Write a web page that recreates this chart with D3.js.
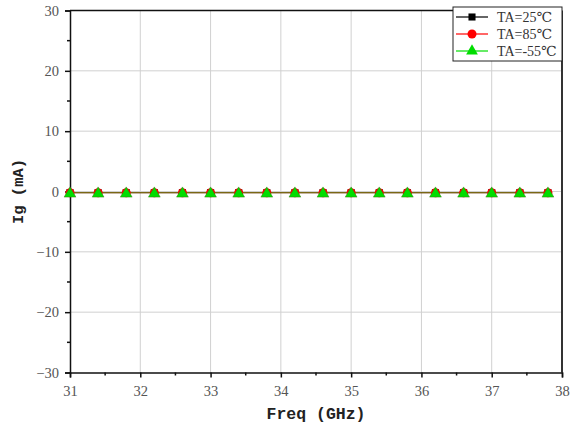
<!DOCTYPE html>
<html><head><meta charset="utf-8">
<script src="https://cdn.jsdelivr.net/npm/d3@7"></script>
<style>body{margin:0;background:#fff}</style>
</head><body><svg id="c" width="577" height="430"></svg>
<script>
const freq = [31,31.4,31.8,32.2,32.6,33,33.4,33.8,34.2,34.6,35,35.4,35.8,36.2,36.6,37,37.4,37.8];
const ig25 = [-0.2,-0.2,-0.2,-0.2,-0.2,-0.2,-0.2,-0.2,-0.2,-0.2,-0.2,-0.2,-0.2,-0.2,-0.2,-0.2,-0.2,-0.2];
const ig85 = [-0.2,-0.2,-0.2,-0.2,-0.2,-0.2,-0.2,-0.2,-0.2,-0.2,-0.2,-0.2,-0.2,-0.2,-0.2,-0.2,-0.2,-0.2];
const igm55 = [-0.2,-0.2,-0.2,-0.2,-0.2,-0.2,-0.2,-0.2,-0.2,-0.2,-0.2,-0.2,-0.2,-0.2,-0.2,-0.2,-0.2,-0.2];
const seriesNames = ["TA=25℃","TA=85℃","TA=-55℃"];
const xTicks = [31,32,33,34,35,36,37,38];
const yTicks = [-30,-20,-10,0,10,20,30];
const xTitle = "Freq (GHz)";
const yTitle = "Ig (mA)";

const svg = d3.select("#c");
const L=70, R=562, T=10.5, B=372.5;
const x = d3.scaleLinear().domain([31,38]).range([L,R]);
const y = d3.scaleLinear().domain([-30,30]).range([B,T]);

// grid
svg.append("g").selectAll("line").data(xTicks.slice(1,-1)).join("line")
  .attr("x1",d=>x(d)).attr("x2",d=>x(d)).attr("y1",T).attr("y2",B)
  .attr("stroke","#d0d0d0").attr("stroke-width",1);
svg.append("g").selectAll("line").data(yTicks.slice(1,-1)).join("line")
  .attr("y1",d=>y(d)).attr("y2",d=>y(d)).attr("x1",L).attr("x2",R)
  .attr("stroke","#d0d0d0").attr("stroke-width",1);

// frame top/right
svg.append("line").attr("x1",L).attr("x2",R).attr("y1",T).attr("y2",T).attr("stroke","#111").attr("stroke-width",1.5);
svg.append("line").attr("x1",R).attr("x2",R).attr("y1",T).attr("y2",B).attr("stroke","#333").attr("stroke-width",2);

// axes
const xMinor = d3.range(31.5,38,1);
const yMinor = d3.range(-25,30,10);
const fontTick = "'Liberation Serif', 'DejaVu Serif', serif";
const xa = svg.append("g").attr("transform",`translate(0,${B})`)
  .call(d3.axisBottom(x).tickValues(xTicks).tickSize(5).tickPadding(8).tickFormat(d3.format("d")));
const ya = svg.append("g").attr("transform",`translate(${L},0)`)
  .call(d3.axisLeft(y).tickValues(yTicks).tickSize(5).tickPadding(6).tickFormat(d=>d<0?"\u2212"+Math.abs(d):d));
[xa,ya].forEach(a=>{
  a.select(".domain").attr("stroke","#111").attr("stroke-width",1.5);
  a.selectAll(".tick line").attr("stroke","#111").attr("stroke-width",1.5);
  a.selectAll("text").attr("font-family",fontTick).attr("font-size",14.5).attr("fill","#555");
});
svg.append("g").selectAll("line").data(xMinor).join("line")
  .attr("x1",d=>x(d)).attr("x2",d=>x(d)).attr("y1",B).attr("y2",B+3).attr("stroke","#111").attr("stroke-width",1.5);
svg.append("g").selectAll("line").data(yMinor).join("line")
  .attr("y1",d=>y(d)).attr("y2",d=>y(d)).attr("x1",L-3).attr("x2",L).attr("stroke","#111").attr("stroke-width",1.5);

// titles
const fontTitle = "'Liberation Mono', 'DejaVu Sans Mono', monospace";
svg.append("text").attr("x",(L+R)/2).attr("y",419).attr("text-anchor","middle")
  .attr("font-family",fontTitle).attr("font-weight","bold").attr("font-size",16.5).attr("fill","#222").text(xTitle);
svg.append("text").attr("transform",`translate(23,${(T+B)/2}) rotate(-90)`).attr("text-anchor","middle")
  .attr("font-family",fontTitle).attr("font-weight","bold").attr("font-size",15.5).attr("fill","#222").text(yTitle);

// series
const colors = ["#000000","#ff0000","#00dd00"];
const data = [ig25, ig85, igm55];
const line = d3.line().x((d,i)=>x(freq[i])).y(d=>y(d));
const sym = [d3.symbolSquare, d3.symbolCircle, d3.symbolTriangle];
const symSize = [50, 64, 60];
data.forEach((vals,k)=>{
  svg.append("path").datum(vals).attr("d",line).attr("fill","none").attr("stroke",colors[k])
    .attr("stroke-width",0.8).attr("stroke-opacity",k===2?0.6:1);
});
data.forEach((vals,k)=>{
  svg.append("g").selectAll("path").data(vals).join("path")
    .attr("transform",(d,i)=>`translate(${x(freq[i])},${y(d)+(k===2?1:0)})`)
    .attr("d",d3.symbol(sym[k],symSize[k])).attr("fill",colors[k])
    .attr("stroke",k===2?"#3a7a10":"none").attr("stroke-width",0.5);
});

// legend
const lg = svg.append("g");
lg.append("rect").attr("x",453).attr("y",7).attr("width",109).attr("height",54)
  .attr("fill","#fff").attr("stroke","#222").attr("stroke-width",1);
seriesNames.forEach((n,k)=>{
  const yy = 17 + k*17;
  lg.append("line").attr("x1",456).attr("x2",488).attr("y1",yy).attr("y2",yy).attr("stroke",colors[k]).attr("stroke-width",1.2);
  lg.append("path").attr("transform",`translate(472,${yy})`).attr("d",d3.symbol(sym[k],symSize[k])).attr("fill",colors[k]);
  lg.append("text").attr("x",497).attr("y",yy+5).attr("font-family",fontTick).attr("font-size",14).attr("fill","#333").text(n);
});
</script></body></html>
